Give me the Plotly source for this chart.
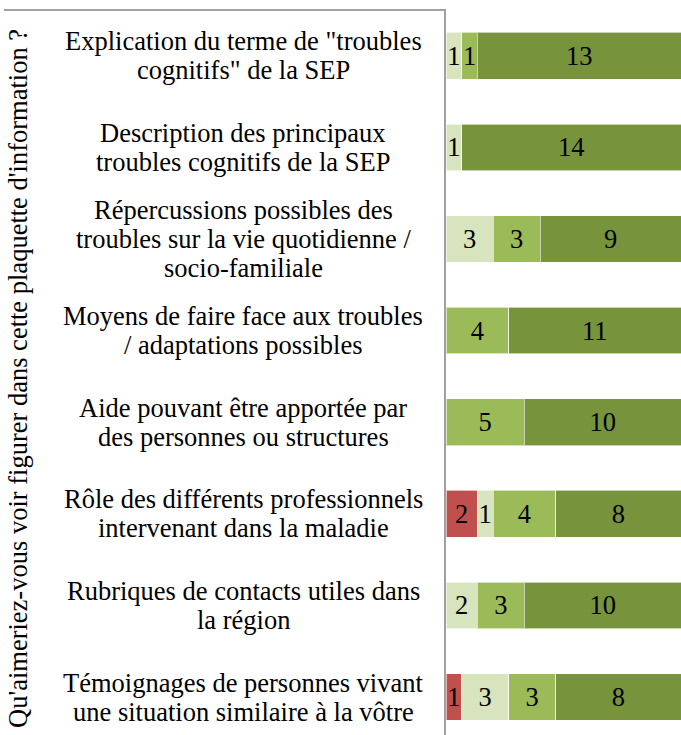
import plotly.graph_objects as go

# category labels, one list of wrapped lines per row (top to bottom)
categories = [
    ['Explication du terme de "troubles', 'cognitifs" de la SEP'],
    ["Description des principaux", "troubles cognitifs de la SEP"],
    ["Répercussions possibles des", "troubles sur la vie quotidienne /", "socio-familiale"],
    ["Moyens de faire face aux troubles", "/ adaptations possibles"],
    ["Aide pouvant être apportée par", "des personnes ou structures"],
    ["Rôle des différents professionnels", "intervenant dans la maladie"],
    ["Rubriques de contacts utiles dans", "la région"],
    ["Témoignages de personnes vivant", "une situation similaire à la vôtre"],
]

red_vals = [0, 0, 0, 0, 0, 2, 0, 1]
light_vals = [1, 1, 3, 0, 0, 1, 2, 3]
medium_vals = [1, 0, 3, 4, 5, 4, 3, 3]
dark_vals = [13, 14, 9, 11, 10, 8, 10, 8]

series = [
    ("Pas du tout", red_vals, "#C0504D"),
    ("Peu", light_vals, "#D7E4BD"),
    ("Assez", medium_vals, "#9BBB59"),
    ("Beaucoup", dark_vals, "#77933C"),
]

FONT = "'Liberation Serif', 'Times New Roman', Times, serif"
FS = 26.5
W, H = 681, 735
L, T = 446, 10
plot_w = W - L
plot_h = H - T
row_h = 91.6

rows = list(range(len(categories)))

fig = go.Figure()
for name, vals, color in series:
    fig.add_trace(go.Bar(
        name=name,
        y=rows,
        x=vals,
        orientation="h",
        marker=dict(color=color, line=dict(color="rgba(255,255,255,0.6)", width=1)),
        text=[str(v) if v else "" for v in vals],
        textposition="inside",
        insidetextanchor="middle",
        textfont=dict(family=FONT, size=FS, color="black"),
        constraintext="none",
        hoverinfo="x+name",
    ))

# wrapped category labels, centred like Excel does it
label_x = (243 - L) / plot_w
for i, lines in enumerate(categories):
    n = len(lines)
    for j, line in enumerate(lines):
        fig.add_annotation(
            x=label_x, xref="paper", y=i, yref="y",
            text=line, showarrow=False, xanchor="center", yanchor="middle",
            yshift=-(j - (n - 1) / 2) * 29,
            font=dict(family=FONT, size=FS, color="black"),
        )

# rotated axis title
fig.add_annotation(
    x=(18 - L) / plot_w, xref="paper", y=1 - (379 - T) / plot_h, yref="paper",
    text="Qu'aimeriez-vous voir figurer dans cette plaquette d'information ?",
    textangle=-90, showarrow=False, xanchor="center", yanchor="middle",
    font=dict(family=FONT, size=FS, color="black"),
)

# top border of the label area
fig.add_shape(
    type="line", xref="paper", yref="paper",
    x0=(4 - L) / plot_w, x1=0, y0=1, y1=1,
    line=dict(color="#A0A0A0", width=2),
)

fig.update_layout(
    width=W, height=H,
    margin=dict(l=L, r=0, t=T, b=0),
    barmode="stack",
    bargap=0.49,
    showlegend=False,
    plot_bgcolor="white",
    paper_bgcolor="white",
    uniformtext=dict(minsize=FS, mode="show"),
    font=dict(family=FONT, size=FS, color="black"),
)
fig.update_xaxes(range=[0, 15], visible=False, fixedrange=True)
fig.update_yaxes(
    range=[(plot_h / row_h) - 0.5, -0.5],
    showticklabels=False, showgrid=False, zeroline=False, ticks="",
    showline=True, linecolor="#A0A0A0", linewidth=2, mirror=False,
)

fig.write_html(
    "out.html",
    config={"displayModeBar": False},
    post_script="document.body.style.margin='0';document.body.style.overflow='hidden';",
)
